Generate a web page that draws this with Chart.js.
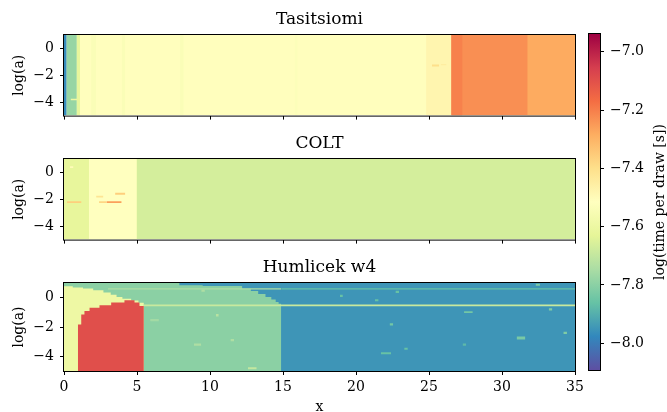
<!DOCTYPE html>
<html lang="en">
<head>
<meta charset="UTF-8">
<title>Voigt profile timing</title>
<script src="https://cdn.jsdelivr.net/npm/chart.js"></script>
<style>
  body { margin: 0; background: #fff; }
  #wrap { position: relative; width: 667px; height: 412px; overflow: hidden; }
  #wrap canvas { position: absolute; }
</style>
</head>
<body>
<div id="wrap">
  <canvas id="tas" width="600" height="130" style="left:0;top:0"></canvas>
  <canvas id="colt" width="600" height="130" style="left:0;top:124px"></canvas>
  <canvas id="hum" width="600" height="170" style="left:0;top:248px"></canvas>
  <canvas id="cbar" width="107" height="412" style="left:560px;top:0"></canvas>
</div>
<script>
const xTicks = [0, 5, 10, 15, 20, 25, 30, 35];
const yTicks = [-4, -2, 0];
const cbTicks = [-8.0, -7.8, -7.6, -7.4, -7.2, -7.0];
const vMin = -8.092, vMax = -6.939;
const spectral = ['#9e0142', '#d53e4f', '#f46d43', '#fdae61', '#fee08b', '#ffffbf',
                  '#e6f598', '#abdda4', '#66c2a5', '#3288bd', '#5e4fa2'];

// rectangles: [x0, x1, logA0, logA1, log time], later ones drawn on top
const tasRegions = [
  [0, 35, -5, 1, -7.51],
  [0, 0.19, -5, 1, -7.97],
  [0.19, 0.88, -5, 1, -7.78],
  [0.88, 1.1, -5, 1, -7.62],
  [1.86, 2.2, -5, 1, -7.54],
  [3.95, 4.2, -5, 1, -7.54],
  [7.95, 8.2, -5, 1, -7.54],
  [15.8, 16.0, -5, 1, -7.53],
  [24.8, 26.52, -5, 1, -7.48],
  [26.52, 35, -5, 1, -7.23],
  [26.52, 27.3, -5, 1, -7.205],
  [31.73, 35, -5, 1, -7.28],
  [0.45, 0.9, -3.86, -3.74, -7.6],
  [25.2, 25.7, -1.35, -1.2, -7.4],
  [25.8, 26.2, -1.25, -1.15, -7.45]
];

const coltRegions = [
  [0, 35, -5, 1, -7.665],
  [0, 4.99, -5, 1, -7.62],
  [1.7, 4.99, -5, 1, -7.515],
  [0.2, 1.2, -2.28, -2.14, -7.36],
  [2.4, 2.9, -2.28, -2.14, -7.38],
  [2.9, 3.95, -2.28, -2.14, -7.26],
  [3.5, 4.2, -1.66, -1.52, -7.36],
  [2.2, 2.7, -1.86, -1.74, -7.42],
  [0.4, 0.65, 0.33, 0.46, -7.5]
];

const humBase = [[0, 35, -5, 1, -7.95]];
// stepped top edges [x, logA], filled down to logA = -5
const humGreenEdge = [[0, 1], [7.9, 0.84], [9.5, 0.8], [12.2, 0.6], [12.8, 0.45], [13.3, 0.25],
  [13.8, 0.05], [14.2, -0.12], [14.5, -0.3], [14.7, -0.42], [14.88, -0.42]];
const humYellowEdge = [[0, 0.77], [0.6, 0.7], [1.3, 0.62], [2.0, 0.5], [2.7, 0.35], [3.2, 0.2],
  [3.6, 0.05], [4.0, -0.08], [4.6, -0.2], [5.1, -0.35], [5.47, -0.35]];
const humRedEdge = [[0.95, -1.83], [1.18, -1.14], [1.4, -0.91], [1.75, -0.68], [2.43, -0.52],
  [3.23, -0.33], [4.14, -0.17], [4.83, -0.33], [5.17, -0.56], [5.47, -0.56]];
const humGreenVal = -7.8, humYellowVal = -7.594, humRedVal = -7.095;
const humRows = [
  [5.47, 35, -0.58, -0.46, -7.69],
  [3, 14.88, 0.55, 0.65, -7.74],
  [14.88, 35, 0.55, 0.65, -7.86]
];
const humSpecks = [
  [32.3, 32.6, 0.82, 0.95, -7.82], [33.2, 33.45, -0.88, -0.72, -7.82],
  [34.2, 34.45, -2.48, -2.32, -7.82], [31.0, 31.6, -2.85, -2.65, -7.83],
  [27.4, 28.0, -1.05, -0.93, -7.84], [22.3, 22.55, -1.9, -1.75, -7.84],
  [21.7, 22.4, -3.85, -3.72, -7.86], [23.3, 23.55, -3.55, -3.42, -7.86],
  [21.3, 21.55, -0.25, -0.1, -7.86], [18.9, 19.1, 0.05, 0.2, -7.86],
  [22.7, 22.95, 0.32, 0.47, -7.86], [27.3, 27.55, -3.28, -3.12, -7.88],
  [10.4, 10.6, -1.28, -1.12, -7.72], [8.9, 9.4, -3.28, -3.12, -7.74],
  [11.4, 11.65, -2.97, -2.82, -7.74], [12.6, 13.2, -4.88, -4.74, -7.7],
  [9.4, 9.65, 0.4, 0.55, -7.74], [5.9, 6.5, -1.6, -1.45, -7.76]
];

const serif = "'DejaVu Serif', serif";
const minus = v => String(v).replace('-', '\u2212');

function hexRgb(h) {
  return [1, 3, 5].map(i => parseInt(h.slice(i, i + 2), 16));
}
function colorFor(v) {
  let t = (v - vMin) / (vMax - vMin);
  let s = Math.min(1, Math.max(0, 1 - t)) * (spectral.length - 1);
  let i = Math.min(spectral.length - 2, Math.floor(s));
  let f = s - i;
  let a = hexRgb(spectral[i]), b = hexRgb(spectral[i + 1]);
  let c = a.map((ai, k) => Math.round(ai + (b[k] - ai) * f));
  return `rgb(${c[0]},${c[1]},${c[2]})`;
}

function rectSet(r) {
  return {
    data: [{x: r[0], y: r[3]}, {x: r[1], y: r[3]}],
    fill: {value: r[2]},
    backgroundColor: colorFor(r[4])
  };
}
function edgeSet(edge, v) {
  return {
    data: edge.map(p => ({x: p[0], y: p[1]})),
    stepped: true,
    fill: {value: -5},
    backgroundColor: colorFor(v)
  };
}
function finish(sets) {
  return sets.map((d, i) => Object.assign(d, {
    showLine: true, borderWidth: 0, borderColor: 'rgba(0,0,0,0)',
    pointRadius: 0, pointHoverRadius: 0, order: -i
  }));
}

const framePlugin = {
  id: 'frame',
  afterDraw(chart) {
    const a = chart.chartArea, ctx = chart.ctx;
    ctx.save();
    ctx.strokeStyle = '#000';
    ctx.lineWidth = 1;
    ctx.strokeRect(a.left - 0.5, a.top - 0.5, a.right - a.left + 1, a.bottom - a.top + 1);
    ctx.restore();
  }
};
const titlePlugin = {
  id: 'panelTitle',
  afterDraw(chart, args, opts) {
    if (!opts.text) return;
    const a = chart.chartArea, ctx = chart.ctx;
    ctx.save();
    ctx.fillStyle = '#000';
    ctx.font = '17px ' + serif;
    ctx.textAlign = 'center';
    ctx.textBaseline = 'middle';
    ctx.fillText(opts.text, (a.left + a.right) / 2, a.top - 15);
    ctx.restore();
  }
};

function panel(id, title, sets, showX) {
  const tickFont = {family: serif, size: 14};
  new Chart(document.getElementById(id), {
    type: 'scatter',
    data: {datasets: finish(sets)},
    options: {
      responsive: false,
      animation: false,
      layout: {padding: {top: 35, right: 25, left: 0, bottom: 0}},
      scales: {
        x: {
          type: 'linear', min: 0, max: 35,
          afterBuildTicks: s => { s.ticks = xTicks.map(v => ({value: v})); },
          afterFit: s => { s.height = showX ? 47 : 7; },
          grid: {drawOnChartArea: false, drawTicks: true, tickLength: 4, color: '#000', lineWidth: 1},
          border: {display: false},
          ticks: {display: showX, color: '#000', font: tickFont, padding: 4, maxRotation: 0, callback: v => minus(v)},
          title: {display: showX, text: 'x', color: '#000', font: tickFont, padding: {top: 0, bottom: 2}}
        },
        y: {
          type: 'linear', min: -5, max: 1,
          afterBuildTicks: s => { s.ticks = yTicks.map(v => ({value: v})); },
          afterFit: s => { s.width = 64; },
          grid: {drawOnChartArea: false, drawTicks: true, tickLength: 4, color: '#000', lineWidth: 1},
          border: {display: false},
          ticks: {color: '#000', font: tickFont, padding: 6, callback: v => minus(v)},
          title: {display: true, text: 'log(a)', color: '#000', font: tickFont, padding: {top: 11, bottom: 0}}
        }
      },
      plugins: {
        legend: {display: false},
        tooltip: {enabled: false},
        panelTitle: {text: title}
      }
    },
    plugins: [framePlugin, titlePlugin]
  });
}

panel('tas', 'Tasitsiomi', tasRegions.map(rectSet), false);
panel('colt', 'COLT', coltRegions.map(rectSet), false);
panel('hum', 'Humlicek w4', [
  ...humBase.map(rectSet),
  edgeSet(humGreenEdge, humGreenVal),
  edgeSet(humYellowEdge, humYellowVal),
  edgeSet(humRedEdge, humRedVal),
  ...humRows.map(rectSet),
  ...humSpecks.map(rectSet)
], true);

// colour bar
const cbLabelPlugin = {
  id: 'cbLabel',
  afterDraw(chart) {
    const ctx = chart.ctx;
    ctx.save();
    ctx.fillStyle = '#000';
    ctx.font = '14px ' + serif;
    ctx.textAlign = 'center';
    ctx.textBaseline = 'middle';
    ctx.translate(100, 202);
    ctx.rotate(-Math.PI / 2);
    ctx.fillText('log(time per draw [s])', 0, 0);
    ctx.restore();
  }
};
function barGradient(chart) {
  const a = chart.chartArea;
  if (!a) return colorFor((vMin + vMax) / 2);
  const g = chart.ctx.createLinearGradient(0, a.bottom, 0, a.top);
  spectral.slice().reverse().forEach((c, i) => g.addColorStop(i / (spectral.length - 1), c));
  return g;
}
new Chart(document.getElementById('cbar'), {
  type: 'bar',
  data: {
    labels: [''],
    datasets: [{
      data: [[vMin, vMax]],
      backgroundColor: ctx => barGradient(ctx.chart),
      borderWidth: 0,
      barPercentage: 1,
      categoryPercentage: 1
    }]
  },
  options: {
    responsive: false,
    animation: false,
    layout: {padding: {left: 29, top: 34, bottom: 42, right: 0}},
    scales: {
      x: {display: false},
      y: {
        position: 'right', min: vMin, max: vMax,
        afterBuildTicks: s => { s.ticks = cbTicks.map(v => ({value: v})); },
        afterFit: s => { s.width = 67; },
        grid: {drawOnChartArea: false, drawTicks: true, tickLength: 4, color: '#000', lineWidth: 1},
        border: {display: false},
        ticks: {color: '#000', font: {family: serif, size: 14}, padding: 6, callback: v => minus(v.toFixed(1))}
      }
    },
    plugins: {legend: {display: false}, tooltip: {enabled: false}}
  },
  plugins: [framePlugin, cbLabelPlugin]
});
</script>
</body>
</html>
